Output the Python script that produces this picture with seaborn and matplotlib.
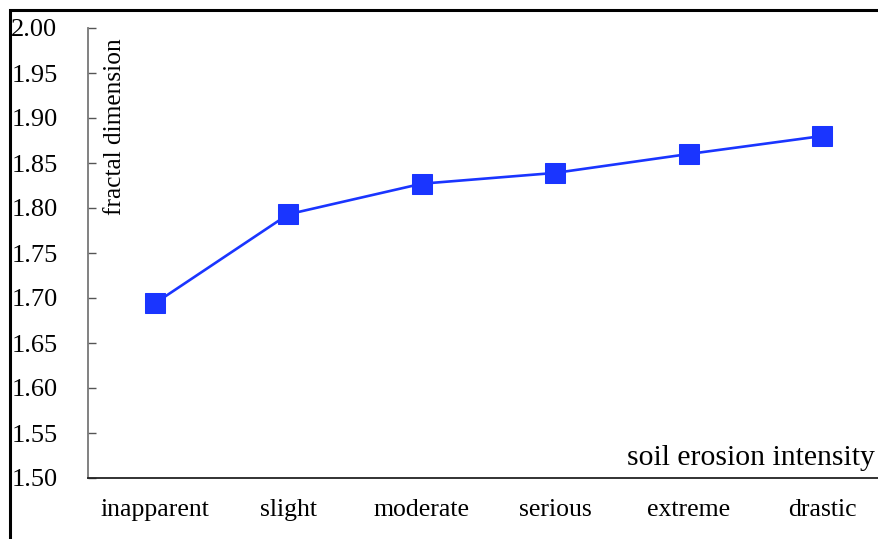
import numpy as np
import pandas as pd
import matplotlib.pyplot as plt
import seaborn as sns
from matplotlib.patches import Rectangle

categories = ['inapparent', 'slight', 'moderate', 'serious', 'extreme', 'drastic']
fractal_dim = [1.694, 1.793, 1.827, 1.839, 1.860, 1.880]
y_ticks = [1.50, 1.55, 1.60, 1.65, 1.70, 1.75, 1.80, 1.85, 1.90, 1.95, 2.00]

df = pd.DataFrame({'pos': np.arange(len(categories)), 'value': fractal_dim})

sns.set_style("white")
plt.rcParams['font.family'] = ['Liberation Serif', 'DejaVu Serif']

fig = plt.figure(figsize=(8.79, 5.39), dpi=100)
ax = fig.add_axes([88/879, 1 - 478/539, 801/879, 450/539])

sns.lineplot(data=df, x='pos', y='value', marker='s', markersize=14,
             color='#1a35ff', linewidth=1.9, markeredgecolor='#1a35ff', ax=ax)

ax.set_xlim(-0.5, 5.5)
ax.set_ylim(1.5, 2.0)
ax.set_yticks(y_ticks)
ax.set_yticklabels([f'{v:.2f}' for v in y_ticks], fontsize=19, color='black')
ax.set_xticks(df['pos'])
ax.set_xticklabels(categories, fontsize=18.5, color='black')
ax.set_xticks(np.arange(-0.5, 6, 1), minor=True)
ax.tick_params(axis='x', which='major', length=0, pad=15)
ax.tick_params(axis='x', which='minor', direction='in', length=6, width=1, color='#444444')
ax.tick_params(axis='y', direction='in', length=6, width=1, color='#555555', pad=22, left=True)
ax.set_xlabel('')
ax.set_ylabel('')

for s in ['top', 'right']:
    ax.spines[s].set_visible(False)
ax.spines['left'].set_color('#777777')
ax.spines['left'].set_linewidth(1.3)
ax.spines['bottom'].set_color('#222222')
ax.spines['bottom'].set_linewidth(1.3)

ax.text(115/879, 1 - 38/539, 'fractal dimension', rotation=90, fontsize=18.3,
        transform=fig.transFigure, ha='center', va='top', color='black')
ax.text(875/879, 1 - 458/539, 'soil erosion intensity', fontsize=21.4,
        transform=fig.transFigure, ha='right', va='center', color='black')

fig.patches.append(Rectangle((9.5/879, -0.2), 1.2, 1 - 9.5/539 + 0.2,
                             transform=fig.transFigure, fill=False,
                             edgecolor='black', linewidth=2.2))

plt.savefig('out.png', dpi=100)
plt.close()
